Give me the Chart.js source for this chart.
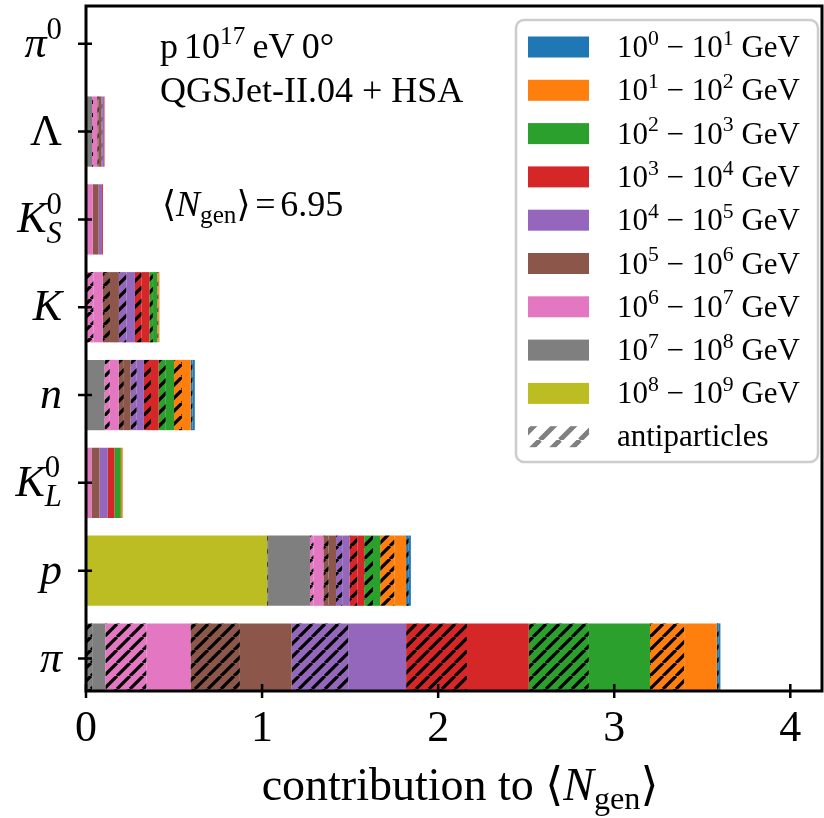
<!DOCTYPE html>
<html>
<head>
<meta charset="utf-8">
<script src="https://cdn.jsdelivr.net/npm/chart.js@4.4.0/dist/chart.umd.min.js"></script>
<style>
  html, body { margin: 0; padding: 0; background: #fff; }
  #wrap { width: 824px; height: 818px; position: relative; }
</style>
</head>
<body>
<div id="wrap"><canvas id="chart"></canvas></div>
<script>
// --- data ---
// categories, from bottom (index 0) to top
const categories = ["π", "p", "K_L^0", "n", "K", "K_S^0", "Λ", "π^0"];

// energy bins, stacked from the highest bin (left) to the lowest (right)
const binExponents = [8, 7, 6, 5, 4, 3, 2, 1, 0];
const binColors = ["#bcbd22", "#7f7f7f", "#e377c2", "#8c564b", "#9467bd", "#d62728", "#2ca02c", "#ff7f0e", "#1f77b4"];

// contributions per bin: antiparticles (hatched) and particles, same order as categories
const anti_8 = [0, 0, 0, 0, 0, 0, 0, 0];
const part_8 = [0, 1.029, 0, 0, 0, 0, 0, 0];
const anti_7 = [0.035, 0.005, 0, 0.003, 0, 0, 0.003, 0];
const part_7 = [0.075, 0.238, 0, 0.102, 0.002, 0, 0.031, 0];
const anti_6 = [0.233, 0.02, 0, 0.03, 0.04, 0, 0.006, 0];
const part_6 = [0.25, 0.056, 0.031, 0.05, 0.052, 0.039, 0.024, 0];
const anti_5 = [0.281, 0.03, 0, 0.03, 0.042, 0, 0.008, 0];
const part_5 = [0.294, 0.042, 0.045, 0.038, 0.051, 0.033, 0.016, 0];
const anti_4 = [0.321, 0.035, 0, 0.035, 0.042, 0, 0.004, 0];
const part_4 = [0.329, 0.041, 0.048, 0.041, 0.049, 0.019, 0.01, 0];
const anti_3 = [0.346, 0.045, 0, 0.04, 0.038, 0, 0, 0];
const part_3 = [0.351, 0.039, 0.038, 0.044, 0.044, 0.005, 0.003, 0];
const anti_2 = [0.341, 0.05, 0, 0.04, 0.02, 0, 0, 0];
const part_2 = [0.347, 0.041, 0.036, 0.047, 0.025, 0, 0, 0];
const anti_1 = [0.194, 0.08, 0, 0.045, 0.005, 0, 0, 0];
const part_1 = [0.186, 0.067, 0.01, 0.05, 0.006, 0, 0, 0];
const anti_0 = [0.011, 0.015, 0, 0.01, 0, 0, 0, 0];
const part_0 = [0.009, 0.012, 0.001, 0.013, 0.001, 0, 0, 0];

const antiByBin = [anti_8, anti_7, anti_6, anti_5, anti_4, anti_3, anti_2, anti_1, anti_0];
const partByBin = [part_8, part_7, part_6, part_5, part_4, part_3, part_2, part_1, part_0];

const xTicks = [0, 1, 2, 3, 4];
const meanNgen = "6.95";

// --- helpers ---
const SERIF = "'Liberation Serif', 'DejaVu Serif', serif";
const fnt = (size, it) => (it ? "italic " : "") + size + "px " + SERIF;

function hatch(fill, line, s, lw) {
  const c = document.createElement("canvas");
  c.width = s; c.height = s;
  const g = c.getContext("2d");
  g.fillStyle = fill;
  g.fillRect(0, 0, s, s);
  g.strokeStyle = line;
  g.lineWidth = lw;
  g.beginPath();
  for (let k = -1; k <= 1; k++) {
    g.moveTo(k * s, s);
    g.lineTo(k * s + s, 0);
  }
  g.stroke();
  return g.createPattern(c, "repeat");
}

// "K_S^0" -> rich parts
function mathLabel(str) {
  const m = str.match(/^([^_^]+)(?:_([^^]+))?(?:\^(.+))?$/);
  const isIt = ch => /[A-Za-zπ]/.test(ch);
  const parts = [{ t: m[1], it: isIt(m[1]) }];
  if (m[2] && m[3]) parts.push({ ss: true, sub: m[2], subIt: isIt(m[2]), sup: m[3] });
  else if (m[3]) parts.push({ t: m[3], pos: "sup" });
  else if (m[2]) parts.push({ t: m[2], pos: "sub", it: isIt(m[2]) });
  return parts;
}

function drawRich(ctx, parts, x, y, size, align) {
  const items = [];
  let w = 0;
  for (const p of parts) {
    if (p.ss) {
      const s = size * 0.7;
      ctx.font = fnt(s, p.subIt);
      const w1 = ctx.measureText(p.sub).width;
      ctx.font = fnt(s, false);
      const w2 = ctx.measureText(p.sup).width;
      items.push({ x: w, p, s });
      w += Math.max(w1, w2);
    } else {
      const s = p.pos ? size * 0.7 : size;
      ctx.font = fnt(s, p.it);
      items.push({ x: w, p, s });
      w += ctx.measureText(p.t).width + (p.kern || 0) * size;
    }
  }
  const x0 = align === "right" ? x - w : align === "center" ? x - w / 2 : x;
  ctx.save();
  ctx.fillStyle = "#000";
  ctx.textAlign = "left";
  ctx.textBaseline = "alphabetic";
  for (const it of items) {
    const p = it.p;
    if (p.ss) {
      ctx.font = fnt(it.s, false);
      ctx.fillText(p.sup, x0 + it.x, y - size * 0.42);
      ctx.font = fnt(it.s, p.subIt);
      ctx.fillText(p.sub, x0 + it.x, y + size * 0.24);
    } else {
      ctx.font = fnt(it.s, p.it);
      const dy = p.pos === "sup" ? -size * 0.4 : p.pos === "sub" ? size * 0.2 : 0;
      ctx.fillText(p.t, x0 + it.x, y + dy);
    }
  }
  ctx.restore();
}

// --- datasets ---
const datasets = [];
binExponents.forEach((e, b) => {
  const pts = arr => arr.map((v, i) => ({ x: v, y: i }));
  datasets.push({ label: "anti " + e, data: pts(antiByBin[b]), backgroundColor: hatch(binColors[b], "#000", 13, 3.2), borderWidth: 0 });
  datasets.push({ label: "part " + e, data: pts(partByBin[b]), backgroundColor: binColors[b], borderWidth: 0 });
});

// frame, ticks, labels, legend and texts
const decorations = {
  id: "decorations",
  afterDatasetsDraw(chart) {
    const ctx = chart.ctx;
    const a = chart.chartArea;
    const xs = chart.scales.x, ys = chart.scales.y;
    ctx.save();
    ctx.strokeStyle = "#000";
    ctx.lineWidth = 3;
    ctx.strokeRect(a.left, a.top, a.right - a.left, a.bottom - a.top);

    ctx.lineWidth = 2.5;
    ctx.beginPath();
    xTicks.forEach(v => {
      const px = xs.getPixelForValue(v);
      ctx.moveTo(px, a.bottom - 7);
      ctx.lineTo(px, a.bottom + 7);
    });
    categories.forEach((c, i) => {
      const py = ys.getPixelForValue(i);
      ctx.moveTo(a.left - 8, py);
      ctx.lineTo(a.left + 6, py);
    });
    ctx.stroke();
    ctx.restore();

    // y tick labels
    categories.forEach((c, i) => {
      const py = ys.getPixelForValue(i);
      drawRich(ctx, mathLabel(c), a.left - 24, py + 13, 44, "right");
    });

    // x axis title
    drawRich(ctx, [
      { t: "contribution to " },
      { t: "⟨" },
      { t: "N", it: true },
      { t: "gen", pos: "sub" },
      { t: "⟩" }
    ], 460, 800, 46, "center");

    // annotation
    drawRich(ctx, [{ t: "p", kern: -0.08 }, { t: " 10" }, { t: "17", pos: "sup", kern: -0.05 }, { t: " eV", kern: -0.05 }, { t: " 0°" }], 160, 58, 36, "left");
    drawRich(ctx, [{ t: "QGSJet-II.04 + HSA" }], 160, 102, 36, "left");
    drawRich(ctx, [
      { t: "⟨" }, { t: "N", it: true }, { t: "gen", pos: "sub" }, { t: "⟩", kern: 0.13 }, { t: "=", kern: 0.13 }, { t: meanNgen }
    ], 162, 216, 36, "left");

    // legend
    ctx.save();
    ctx.beginPath();
    ctx.roundRect(516, 20, 302, 442, 8);
    ctx.fillStyle = "rgba(255,255,255,0.8)";
    ctx.fill();
    ctx.strokeStyle = "#cccccc";
    ctx.lineWidth = 2.5;
    ctx.stroke();
    const rows = binExponents.slice().reverse();
    rows.forEach((e, r) => {
      const b = binExponents.indexOf(e);
      const cy = 47 + r * 43.3;
      ctx.fillStyle = binColors[b];
      ctx.fillRect(528, cy - 10.5, 61, 21);
      drawRich(ctx, [
        { t: "10" }, { t: String(e), pos: "sup" }, { t: " − 10" }, { t: String(e + 1), pos: "sup" }, { t: " GeV" }
      ], 617, cy + 10, 31, "left");
    });
    const cy = 47 + 9 * 43.3;
    ctx.fillStyle = hatch("#ffffff", "#808080", 20, 5);
    ctx.fillRect(528, cy - 10.5, 61, 21);
    ctx.restore();
    drawRich(ctx, [{ t: "antiparticles" }], 617, cy + 9, 31, "left");
  }
};

new Chart(document.getElementById("chart"), {
  type: "bar",
  data: { datasets },
  options: {
    indexAxis: "y",
    responsive: true,
    maintainAspectRatio: false,
    animation: false,
    layout: { padding: { left: 0, top: 6, right: 2, bottom: 0 } },
    barPercentage: 0.8,
    categoryPercentage: 1.0,
    plugins: { legend: { display: false }, tooltip: { enabled: false } },
    scales: {
      x: {
        type: "linear",
        min: 0,
        max: 4.18,
        stacked: true,
        grid: { display: false, drawTicks: false },
        border: { display: false },
        ticks: {
          stepSize: 1,
          includeBounds: false,
          color: "#000",
          padding: 12,
          maxRotation: 0,
          font: { family: SERIF, size: 44 }
        },
        afterFit(s) { s.height = 127; }
      },
      y: {
        type: "linear",
        min: -0.37,
        max: 7.43,
        offset: false,
        stacked: true,
        grid: { display: false, drawTicks: false },
        border: { display: false },
        ticks: { display: false, stepSize: 1, includeBounds: false },
        afterFit(s) { s.width = 86; }
      }
    }
  },
  plugins: [decorations]
});
</script>
</body>
</html>
